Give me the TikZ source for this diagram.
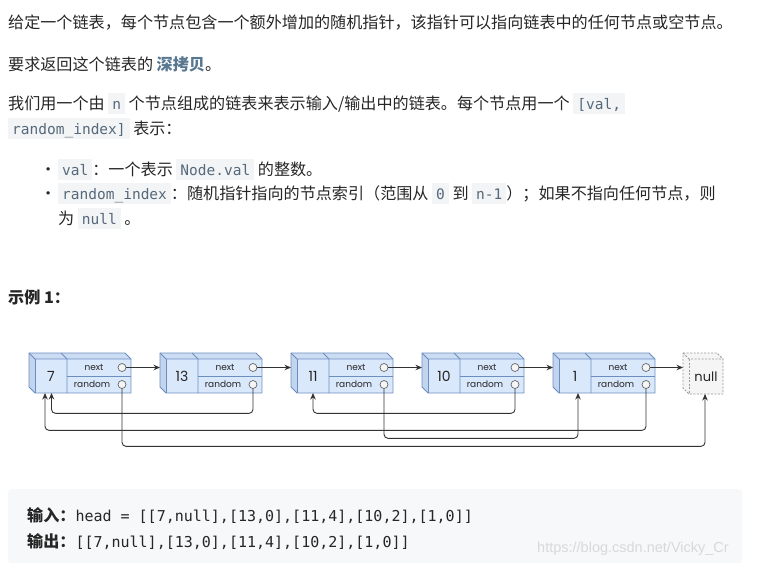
\documentclass[tikz,border=0pt]{standalone}
\usepackage{fontspec}
\setmainfont{Noto Sans CJK SC}
\newfontfamily\codefont{DejaVu Sans Mono}
\newfontfamily\dfont{Poppins}
\newfontfamily\wmfont{Liberation Sans}
\usetikzlibrary{arrows.meta}
\definecolor{txt}{HTML}{262626}
\definecolor{codefg}{HTML}{56697A}
\definecolor{codebg}{HTML}{F2F4F6}
\definecolor{blockbg}{HTML}{F7F8FA}
\definecolor{strong}{HTML}{587891}
\definecolor{nodefill}{HTML}{DAE8FC}
\definecolor{nodetop}{HTML}{CCDCF3}
\definecolor{nodeside}{HTML}{C2D4EE}
\definecolor{nodeedge}{HTML}{6C8EBF}
\definecolor{linec}{HTML}{333333}
\definecolor{nullfill}{HTML}{F5F5F5}
\definecolor{nulledge}{HTML}{999999}
\definecolor{wm}{HTML}{D9D9D9}
\newcommand\ic[1]{{\setlength{\fboxsep}{0pt}\colorbox{codebg}{\rule[-5pt]{0pt}{21pt}\hspace{4pt}{\codefont\fontsize{14.5}{18}\selectfont\color{codefg}#1}\hspace{4pt}}}}
\begin{document}
\begin{tikzpicture}[x=1pt,y=-1pt,
  line/.style={anchor=base west, inner sep=0pt, text=txt, font=\fontsize{16.1}{20}\selectfont},
  fface/.style={fill=nodefill},
  tface/.style={fill=nodetop},
  lface/.style={fill=nodeside},
  edge/.style={draw=nodeedge, line width=0.8pt, line join=round},
  nedge/.style={draw=nulledge, line width=0.8pt, dash pattern=on 2pt off 1.5pt, line join=round},
  valtxt/.style={inner sep=0pt, text=txt, font=\dfont\fontsize{14}{16}\selectfont},
  smalltxt/.style={inner sep=0pt, text=txt, font=\dfont\fontsize{9}{10}\selectfont},
  port/.style={circle, draw=black!60, fill=nullfill, minimum size=8pt, inner sep=0pt, line width=0.7pt},
  conn/.style={draw=linec, line width=0.9pt, rounded corners=4pt, -{Stealth[length=6.5pt,width=5.5pt]}}
]
\useasboundingbox[fill=white] (0,0) rectangle (757,565);

% ---------- text ----------
\node[line] (l1) at (8,28) {给定一个链表，每个节点包含一个额外增加的随机指针，该指针可以指向链表中的任何节点或空节点。};
\node[line] (l2) at (8,70) {要求返回这个链表的 {\bfseries\color{strong}深拷贝}。};
\node[line] (l3) at (8,109) {我们用一个由 \ic{n} 个节点组成的链表来表示输入/输出中的链表。每个节点用一个 \ic{[val,}};
\node[line] (l4) at (8,134) {\ic{random\_index]} 表示：};
\node[line] (b1) at (40,175) {•};
\node[line] (l5) at (58,175) {\ic{val}：一个表示 \ic{Node.val} 的整数。};
\node[line] (b2) at (40,199) {•};
\node[line] (l6) at (58,199) {\ic{random\_index}：随机指针指向的节点索引（范围从 \ic{0} 到 \ic{n-1}）；如果不指向任何节点，则};
\node[line] (l7) at (58,224) {为 \ic{null} 。};
\node[line, font=\bfseries\fontsize{16.1}{20}\selectfont] (ex) at (8,303) {示例 1：};

% ---------- code block ----------
\node[fill=blockbg, rounded corners=3pt, minimum width=734pt, minimum height=74pt, anchor=north west, inner sep=0pt] (cb) at (8,489) {};
\node[line] (in) at (27,521) {{\bfseries 输入：}{\codefont\fontsize{15}{18}\selectfont head = [[7,null],[13,0],[11,4],[10,2],[1,0]]}};
\node[line] (out) at (27,547) {{\bfseries 输出：}{\codefont\fontsize{15}{18}\selectfont [[7,null],[13,0],[11,4],[10,2],[1,0]]}};
\node[anchor=base west, inner sep=0pt, text=wm, font=\wmfont\fontsize{14.5}{16}\selectfont] (wmk) at (537,552) {https://blog.csdn.net/Vicky\_Cr};

% ---------- list nodes ----------
\foreach \v [count=\i from 0] in {7,13,11,10,1} {
  \pgfmathsetmacro\xa{29+131*\i}
  \fill[lface] (\xa,353) -- (\xa+6,359) -- (\xa+6,393) -- (\xa,387) -- cycle;
  \fill[tface] (\xa,353) -- (\xa+96,353) -- (\xa+102,359) -- (\xa+6,359) -- cycle;
  \fill[fface] (\xa+6,359) rectangle (\xa+102,393);
  \draw[edge] (\xa,353) -- (\xa+96,353) -- (\xa+102,359) -- (\xa+102,393) -- (\xa+6,393) -- (\xa,387) -- cycle;
  \draw[edge] (\xa,353) -- (\xa+6,359) -- (\xa+102,359);
  \draw[edge] (\xa+6,359) -- (\xa+6,393);
  \draw[edge] (\xa+32,353) -- (\xa+38,359) -- (\xa+38,393);
  \draw[edge] (\xa+38,376) -- (\xa+102,376);
  \node[valtxt] (v\i) at (\xa+22,376) {\v};
  \node[smalltxt] (nx\i) at (\xa+65,367.5) {next};
  \node[smalltxt] (rd\i) at (\xa+63,384.5) {random};
  \node[port] (pn\i) at (\xa+93,367.5) {};
  \node[port] (pr\i) at (\xa+93,384.5) {};
  \coordinate (in\i) at (\xa,367.5);
}

% ---------- null node ----------
\fill[fill=nullfill] (683,353) -- (717,353) -- (723,359) -- (723,394) -- (689,394) -- (683,388) -- cycle;
\draw[nedge] (683,353) -- (717,353) -- (723,359) -- (723,394) -- (689,394) -- (683,388) -- cycle;
\draw[nedge] (683,353) -- (689,359) -- (723,359);
\draw[nedge] (689,359) -- (689,394);
\node[valtxt, font=\dfont\fontsize{13}{15}\selectfont] (nul) at (706,377) {null};
\coordinate (nulin) at (683,367.5);
\coordinate (nulbot) at (705,394);

% ---------- targets for random pointers ----------
\coordinate (t0a) at (51.5,393);
\coordinate (t0b) at (45,393);
\coordinate (t2) at (313,393);
\coordinate (t4) at (578,393);

% ---------- next pointers ----------
\draw[conn] (pn0.east) -- (in1);
\draw[conn] (pn1.east) -- (in2);
\draw[conn] (pn2.east) -- (in3);
\draw[conn] (pn3.east) -- (in4);
\draw[conn] (pn4.east) -- (nulin);

% ---------- random pointers ----------
\draw[conn] (pr0.south) -- ++(0,57.5) -| (nulbot);
\draw[conn] (pr1.south) -- ++(0,24.5) -| (t0a);
\draw[conn] (pr2.south) -- ++(0,49.5) -| (t4);
\draw[conn] (pr3.south) -- ++(0,24.5) -| (t2);
\draw[conn] (pr4.south) -- ++(0,41.5) -| (t0b);
\end{tikzpicture}
\end{document}
